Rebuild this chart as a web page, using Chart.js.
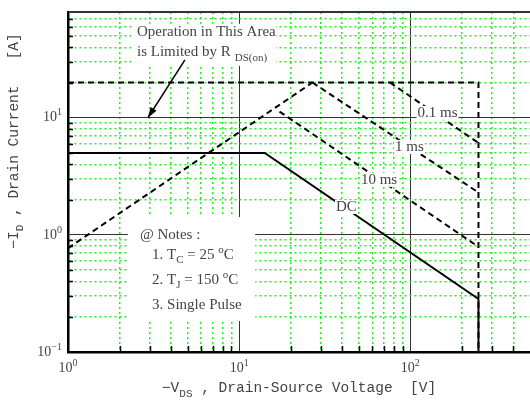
<!DOCTYPE html>
<html><head><meta charset="utf-8">
<script src="https://cdn.jsdelivr.net/npm/chart.js@4.4.1/dist/chart.umd.min.js"></script>
<style>html,body{margin:0;padding:0;background:#fff}canvas{display:block}</style>
</head><body>
<canvas id="c" width="530" height="405"></canvas>
<script>
// ---- data ----
const rdsLimitV = [1, 26.8];
const rdsLimitI = [0.77, 20];
const maxLimitV = [1, 250, 250];
const maxLimitI = [20, 20, 0.1];
const pulse01msV = [76, 250];
const pulse01msI = [20, 6.1];
const pulse1msV = [26.8, 250];
const pulse1msI = [20, 2.3];
const pulse10msV = [17.2, 250];
const pulse10msI = [11.3, 0.79];
const dcV = [1, 14.1, 250, 250];
const dcI = [5, 5, 0.284, 0.1];

const xDecades = [1, 10, 100];
const xDecadeExp = ['0', '1', '2'];
const yDecades = [0.1, 1, 10];
const yDecadeExp = ['-1', '0', '1'];
const xMinor = [2,3,4,5,6,7,8,9,20,30,40,50,60,70,80,90,200,300,400];
const yMinor = [0.2,0.3,0.4,0.5,0.6,0.7,0.8,0.9,2,3,4,5,6,7,8,9,20,30,40,50,60,70];
const xRange = [1, 500];
const yRange = [0.1, 80];

const curveLabels = ['0.1 ms', '1 ms', '10 ms', 'DC'];
const curveLabelAt = [[144, 11.0], [98.8, 5.64], [65.6, 2.95], [42.3, 1.73]];

// ---- helpers ----
const mk = (vs, is) => vs.map((v, i) => ({x: v, y: is[i]}));
const GREEN = '#22f022';
const TXT = '#444';
const SERIF = '"Liberation Serif", "Times New Roman", serif';
const MONO = '"Liberation Mono", "Courier New", monospace';
const isMajorX = v => xDecades.includes(v);
const isMajorY = v => yDecades.includes(v);

function richWidth(ctx, parts) {
  let w = 0;
  for (const p of parts) { ctx.font = p.f; w += ctx.measureText(p.t).width + (p.gap || 0); }
  return w;
}
function drawRich(ctx, x, y, parts, align) {
  const w = richWidth(ctx, parts);
  let cx = align === 'center' ? x - w / 2 : align === 'right' ? x - w : x;
  ctx.textBaseline = 'middle';
  ctx.textAlign = 'left';
  for (const p of parts) {
    ctx.font = p.f;
    cx += (p.gap || 0);
    ctx.fillText(p.t, cx, y + (p.dy || 0));
    cx += ctx.measureText(p.t).width;
  }
}

const decorPlugin = {
  id: 'decor',
  afterDraw(chart) {
    const {ctx, chartArea: ca, scales: {x, y}} = chart;
    const X = v => x.getPixelForValue(v), Y = v => y.getPixelForValue(v);
    ctx.save();
    // inner minor ticks
    ctx.strokeStyle = '#000'; ctx.lineWidth = 1.5;
    ctx.beginPath();
    for (const v of yMinor) { const py = Math.round(Y(v)) + 0.5; ctx.moveTo(ca.left, py); ctx.lineTo(ca.left + 5, py); }
    for (const v of xMinor) { const px = Math.round(X(v)) + 0.5; ctx.moveTo(px, ca.bottom); ctx.lineTo(px, ca.bottom - 6); }
    ctx.stroke();

    // white boxes behind annotation text
    ctx.fillStyle = '#fff';
    const box = (v0, v1, i0, i1) => ctx.fillRect(X(v0), Y(i0), X(v1) - X(v0), Y(i1) - Y(i0));
    box(2.36, 16.4, 63.4, 27.7);
    box(2.24, 12.4, 1.42, 0.184);

    ctx.fillStyle = TXT;
    const f15 = '15px ' + SERIF, f11 = '11px ' + SERIF, f10 = '10px ' + SERIF;
    // "Operation ..." annotation
    drawRich(ctx, X(2.53), Y(54.2), [{t: 'Operation in This Area', f: f15}], 'left');
    drawRich(ctx, X(2.53), Y(36.5), [{t: 'is Limited by R', f: f15}, {t: 'DS(on)', f: f11, dy: 6, gap: 4}], 'left');
    // arrow
    const ax0 = X(4.82), ay0 = Y(31.2), ax1 = X(2.93), ay1 = Y(10);
    ctx.strokeStyle = '#000'; ctx.lineWidth = 1.5;
    ctx.beginPath(); ctx.moveTo(ax0, ay0); ctx.lineTo(ax1, ay1); ctx.stroke();
    const ang = Math.atan2(ay1 - ay0, ax1 - ax0), L = 11, W = 0.32;
    ctx.fillStyle = '#000';
    ctx.beginPath();
    ctx.moveTo(ax1, ay1);
    ctx.lineTo(ax1 - L * Math.cos(ang - W), ay1 - L * Math.sin(ang - W));
    ctx.lineTo(ax1 - L * Math.cos(ang + W), ay1 - L * Math.sin(ang + W));
    ctx.closePath(); ctx.fill();

    // curve labels with white background
    ctx.font = f15;
    curveLabels.forEach((t, i) => {
      const [v, c] = curveLabelAt[i];
      const w = ctx.measureText(t).width;
      ctx.fillStyle = '#fff';
      ctx.fillRect(X(v) - w / 2 - 1, Y(c) - 7, w + 2, 14);
      ctx.fillStyle = TXT;
      drawRich(ctx, X(v), Y(c), [{t, f: f15}], 'center');
    });

    // notes
    ctx.fillStyle = TXT;
    drawRich(ctx, X(2.63), Y(1), [{t: '@ Notes :', f: f15}], 'left');
    drawRich(ctx, X(3.10), Y(0.675), [{t: '1. T', f: f15}, {t: 'C', f: f11, dy: 5}, {t: ' = 25 ', f: f15}, {t: 'o', f: f11, dy: -5}, {t: 'C', f: f15}], 'left');
    drawRich(ctx, X(3.10), Y(0.413), [{t: '2. T', f: f15}, {t: 'J', f: f11, dy: 5}, {t: ' = 150 ', f: f15}, {t: 'o', f: f11, dy: -5}, {t: 'C', f: f15}], 'left');
    drawRich(ctx, X(3.10), Y(0.2525), [{t: '3. Single Pulse', f: f15}], 'left');

    // tick labels
    const f14 = '14px ' + SERIF;
    xDecades.forEach((v, i) => {
      drawRich(ctx, X(v), ca.bottom + 16, [{t: '10', f: f14}, {t: xDecadeExp[i], f: f10, dy: -5}], 'center');
    });
    yDecades.forEach((v, i) => {
      drawRich(ctx, ca.left - 6, Y(v), [{t: '10', f: f14}, {t: yDecadeExp[i] === '-1' ? '\u22121' : yDecadeExp[i], f: f10, dy: -5}], 'right');
    });

    // axis titles
    const fm = '14.5px ' + MONO, fms = '11px ' + MONO;
    drawRich(ctx, (ca.left + ca.right) / 2 + 0, 388, [{t: '\u2212V', f: fm}, {t: 'DS', f: fms, dy: 6}, {t: ' , Drain-Source Voltage  [V]', f: fm}], 'center');
    ctx.save();
    ctx.translate(14, 141);
    ctx.rotate(-Math.PI / 2);
    drawRich(ctx, 0, 0, [{t: '\u2212I', f: fm}, {t: 'D', f: fms, dy: 6}, {t: ' , Drain Current   [A]', f: fm}], 'center');
    ctx.restore();
    ctx.restore();
  }
};

const lineStyle = {borderColor: '#000', borderWidth: 2, pointRadius: 0, fill: false, tension: 0};
const dash = [6, 4];

new Chart(document.getElementById('c'), {
  type: 'line',
  data: {
    datasets: [
      {...lineStyle, label: 'Max limit', data: mk(maxLimitV, maxLimitI), borderDash: dash},
      {...lineStyle, label: 'RDS(on) limit', data: mk(rdsLimitV, rdsLimitI), borderDash: dash},
      {...lineStyle, label: '0.1 ms', data: mk(pulse01msV, pulse01msI), borderDash: dash},
      {...lineStyle, label: '1 ms', data: mk(pulse1msV, pulse1msI), borderDash: dash},
      {...lineStyle, label: '10 ms', data: mk(pulse10msV, pulse10msI), borderDash: dash},
      {...lineStyle, label: 'DC', data: mk(dcV, dcI)}
    ]
  },
  options: {
    responsive: false,
    animation: false,
    parsing: true,
    layout: {padding: {top: 12, right: 0, left: 0, bottom: 0}},
    plugins: {legend: {display: false}, tooltip: {enabled: false}},
    scales: {
      x: {
        type: 'logarithmic', min: xRange[0], max: xRange[1],
        afterBuildTicks: s => { s.ticks = [...xMinor, 10, 100].sort((a, b) => a - b).map(v => ({value: v})); },
        afterFit: s => { s.height = 53; },
        ticks: {display: false},
        grid: {
          drawTicks: false,
          color: c => (c.tick && isMajorX(c.tick.value)) ? '#333' : GREEN,
          lineWidth: c => (c.tick && isMajorX(c.tick.value)) ? 1 : 1.5
        },
        border: {display: true, color: '#000', width: 2.5,
          dash: c => (c.tick && !isMajorX(c.tick.value)) ? [2, 3] : []}
      },
      y: {
        type: 'logarithmic', min: yRange[0], max: yRange[1],
        afterBuildTicks: s => { s.ticks = [...yMinor, 1, 10, yRange[1]].sort((a, b) => a - b).map(v => ({value: v})); },
        afterFit: s => { s.width = 68; },
        ticks: {display: false},
        grid: {
          drawTicks: false,
          color: c => {
            if (!c.tick) return GREEN;
            const v = c.tick.value;
            if (v === yRange[1]) return '#333';
            return isMajorY(v) ? '#333' : GREEN;
          },
          lineWidth: c => {
            if (!c.tick) return 1;
            const v = c.tick.value;
            if (v === yRange[1]) return 2;
            return isMajorY(v) ? 1 : 1.5;
          }
        },
        border: {display: true, color: '#000', width: 2.5,
          dash: c => {
            if (!c.tick) return [];
            const v = c.tick.value;
            return (isMajorY(v) || v === yRange[1]) ? [] : [2, 3];
          }}
      }
    }
  },
  plugins: [decorPlugin]
});
</script>
</body></html>
